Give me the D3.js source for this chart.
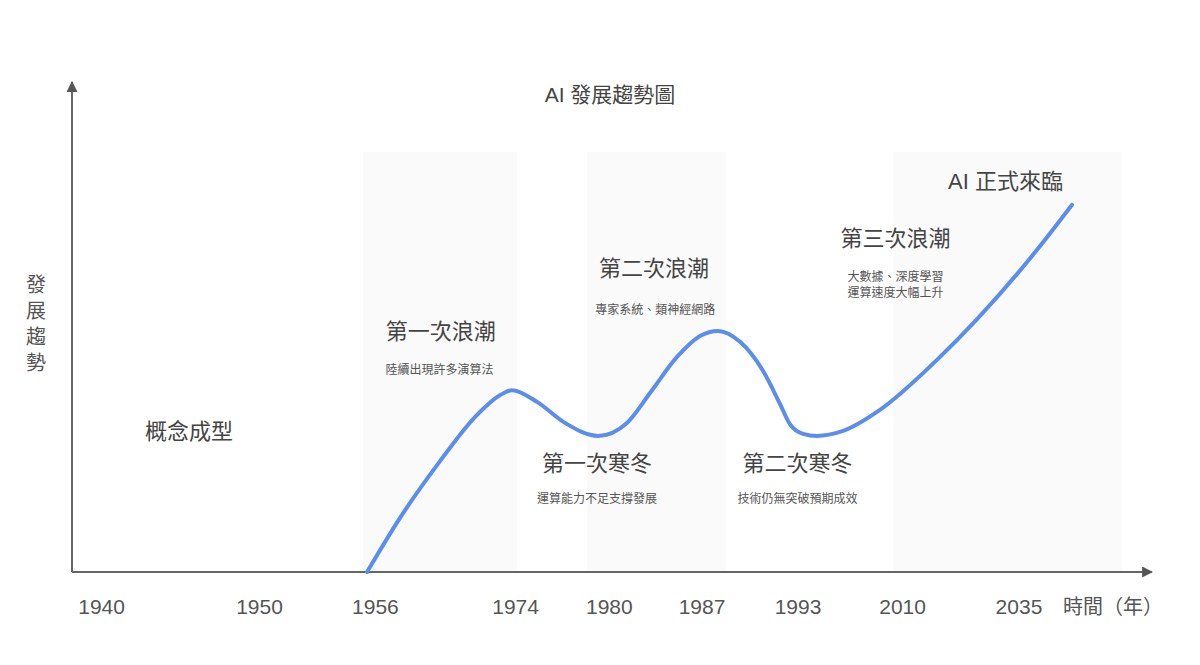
<!DOCTYPE html>
<html>
<head>
<meta charset="utf-8">
<script src="https://cdn.jsdelivr.net/npm/d3@7"></script>
<style>
  html, body { margin: 0; padding: 0; background: #fff; }
  svg { display: block; }
  text { font-family: "Liberation Sans", "Noto Sans CJK TC", sans-serif; }
</style>
</head>
<body>
<svg id="chart" width="1200" height="665"></svg>
<script>
// ---- data ----
const tickLabels = ["1940", "1950", "1956", "1974", "1980", "1987", "1993", "2010", "2035"];
const tickPos    = [2.7, 17.35, 28.1, 41.1, 49.8, 58.4, 67.3, 77.0, 87.8];

const curveX = [27.37, 30.43, 34.14, 37.38, 39.70, 40.82, 43.14, 45.73, 48.79, 51.48, 53.62, 56.12, 58.26, 59.93, 61.97, 64.10, 65.68, 66.60, 67.81, 69.11, 71.52, 74.95, 80.24, 89.52, 92.76];
const curveY = [0, 12.9, 26.4, 36.9, 42.1, 43.3, 40.5, 35.5, 32.4, 35.5, 42.6, 51.2, 56.2, 57.4, 54.8, 47.9, 40.0, 35.2, 32.9, 32.4, 33.6, 38.6, 50.5, 76.7, 87.4];

const bandStart = [27.0, 47.8, 76.2];
const bandEnd   = [41.3, 60.7, 97.4];

const headings  = ["概念成型", "第一次浪潮", "第二次浪潮", "第一次寒冬", "第二次寒冬", "第三次浪潮", "AI 正式來臨"];
const headingX  = [10.85, 34.2, 54.0, 48.7, 67.3, 76.4, 86.6];
const headingY  = [33.6, 57.4, 72.4, 26.0, 26.0, 79.5, 93.1];

const notes  = ["陸續出現許多演算法", "專家系統、類神經網路", "運算能力不足支撐發展", "技術仍無突破預期成效", "大數據、深度學習", "運算速度大幅上升"];
const noteX  = [34.1, 54.1, 48.7, 67.3, 76.4, 76.4];
const noteY  = [48.1, 62.4, 17.4, 17.4, 70.2, 66.4];

const title = "AI 發展趨勢圖";
const yTitle = "發展趨勢";
const xTitle = "時間（年）";

// ---- layout ----
const svg = d3.select("#chart");
const x0 = 72, x1 = 1150, yBase = 572, yTop = 152;
const x = d3.scaleLinear().domain([0, 100]).range([x0, x1]);
const y = d3.scaleLinear().domain([0, 100]).range([yBase, yTop]);

// bands
svg.append("g").selectAll("rect").data(bandStart).join("rect")
  .attr("x", (d) => x(d))
  .attr("width", (d, i) => x(bandEnd[i]) - x(d))
  .attr("y", y(100))
  .attr("height", y(0) - y(100))
  .attr("fill", "#fafafa");

// arrow marker
const defs = svg.append("defs");
defs.append("marker").attr("id", "arr")
  .attr("viewBox", "0 0 10 10").attr("refX", 9).attr("refY", 5)
  .attr("markerWidth", 5.5).attr("markerHeight", 5.5)
  .attr("markerUnits", "strokeWidth")
  .attr("orient", "auto")
  .append("path").attr("d", "M0,0 L10,5 L0,10 Z").attr("fill", "#555");

// axes
svg.append("line").attr("x1", x0).attr("y1", yBase).attr("x2", x0).attr("y2", 82)
  .attr("stroke", "#666").attr("stroke-width", 2).attr("marker-end", "url(#arr)");
svg.append("line").attr("x1", x0).attr("y1", yBase).attr("x2", 1152).attr("y2", yBase)
  .attr("stroke", "#666").attr("stroke-width", 2).attr("marker-end", "url(#arr)");

// x tick labels via axis
const xAxis = d3.axisBottom(x).tickValues(tickPos)
  .tickFormat((d, i) => tickLabels[i]).tickSize(0).tickPadding(0);
const gx = svg.append("g").attr("transform", `translate(0,${yBase})`).call(xAxis);
gx.select(".domain").remove();
gx.selectAll("text")
  .attr("y", 35).attr("dy", "0.35em")
  .attr("font-size", 21).attr("fill", "#555")
  .attr("font-family", "'Liberation Sans', sans-serif");

// curve
const pts = curveX.map((d, i) => [d, curveY[i]]);
const line = d3.line().x((d) => x(d[0])).y((d) => y(d[1])).curve(d3.curveMonotoneX);
svg.append("path").attr("d", line(pts))
  .attr("fill", "none").attr("stroke", "#5b8eec").attr("stroke-width", 4)
  .attr("stroke-linecap", "round").attr("stroke-linejoin", "round");

// headings
svg.append("g").selectAll("text").data(headings).join("text")
  .attr("x", (d, i) => x(headingX[i]))
  .attr("y", (d, i) => y(headingY[i]))
  .attr("dy", "0.35em")
  .attr("text-anchor", "middle")
  .attr("font-size", 22).attr("fill", "#444")
  .text((d) => d);

// notes
svg.append("g").selectAll("text").data(notes).join("text")
  .attr("x", (d, i) => x(noteX[i]))
  .attr("y", (d, i) => y(noteY[i]))
  .attr("dy", "0.35em")
  .attr("text-anchor", "middle")
  .attr("font-size", 12).attr("fill", "#555")
  .text((d) => d);

// title
svg.append("text").attr("x", 610).attr("y", 95).attr("dy", "0.35em")
  .attr("text-anchor", "middle").attr("font-size", 21).attr("fill", "#444")
  .text(title);

// y title (vertical characters)
svg.append("g").selectAll("text").data(Array.from(yTitle)).join("text")
  .attr("x", 36).attr("y", (d, i) => 285 + i * 26).attr("dy", "0.35em")
  .attr("text-anchor", "middle").attr("font-size", 20).attr("fill", "#555")
  .text((d) => d);

// x title
svg.append("text").attr("x", 1063).attr("y", 607).attr("dy", "0.35em")
  .attr("font-size", 20).attr("fill", "#555")
  .text(xTitle);
</script>
</body>
</html>
